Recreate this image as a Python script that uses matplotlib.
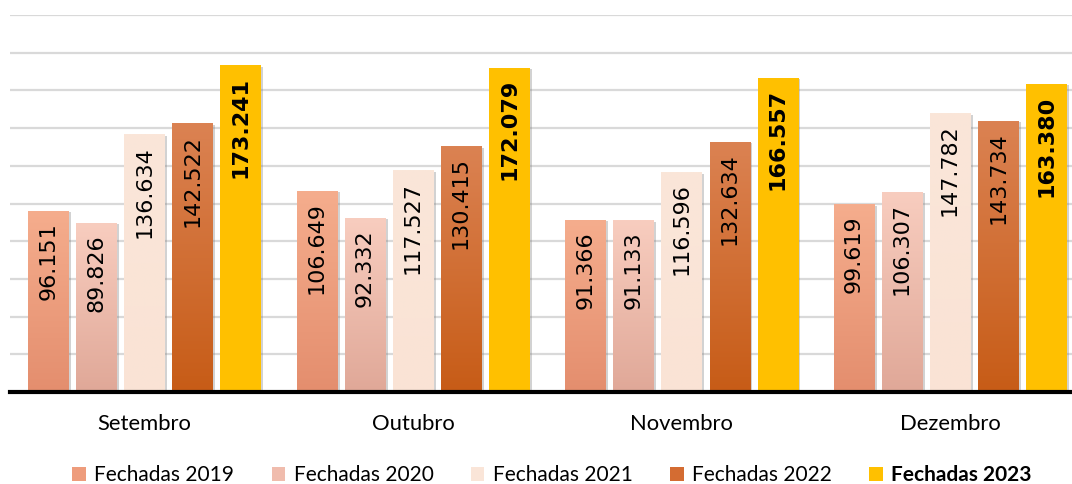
import matplotlib
matplotlib.use("Agg")
import matplotlib.pyplot as plt
import matplotlib.patheffects as pe
from matplotlib.colors import LinearSegmentedColormap
from matplotlib.patches import Patch
import numpy as np

months = ["Setembro", "Outubro", "Novembro", "Dezembro"]
series = ["Fechadas 2019", "Fechadas 2020", "Fechadas 2021", "Fechadas 2022", "Fechadas 2023"]
v2019 = [96.151, 106.649, 91.366, 99.619]
v2020 = [89.826, 92.332, 91.133, 106.307]
v2021 = [136.634, 117.527, 116.596, 147.782]
v2022 = [142.522, 130.415, 132.634, 143.734]
v2023 = [173.241, 172.079, 166.557, 163.380]
values = [v2019, v2020, v2021, v2022, v2023]

# top colour, bottom colour
grads = [("#F5AD8D", "#E48E6E"),
         ("#F8CDBF", "#E0A898"),
         ("#FAE6D9", "#FAE3D5"),
         ("#DB8252", "#C75C17"),
         ("#FFC000", "#FFC000")]
legend_cols = ["#EE9C7C", "#F0BCAD", "#FAE5D8", "#D46C32", "#FFC000"]

plt.rcParams['font.family'] = ['Lato', 'DejaVu Sans']

fig = plt.figure(figsize=(10.72, 4.84), dpi=100)
ax = fig.add_axes([10/1072, 92/484, 1062/1072, 377/484])

x = np.arange(len(months))
pitch = 0.179
width = 0.149

for i, (vals, (ctop, cbot)) in enumerate(zip(values, grads)):
    bars = ax.bar(x + (i - 2) * pitch, vals, width, color=cbot, zorder=3,
                  path_effects=[pe.SimplePatchShadow(offset=(2, -1), shadow_rgbFace="#808080", alpha=0.35),
                                pe.Normal()])
    cmap = LinearSegmentedColormap.from_list("g%d" % i, [cbot, ctop])
    for b, v in zip(bars, vals):
        x0 = b.get_x()
        im = ax.imshow(np.linspace(0, 1, 100).reshape(-1, 1), cmap=cmap, origin="lower",
                       extent=[x0, x0 + b.get_width(), 0, b.get_height()],
                       aspect="auto", zorder=3.5)
        im.set_clip_path(b)
        ax.text(b.get_x() + b.get_width() / 2, v - 6, f"{v:.3f}",
                rotation=90, ha="center", va="top", fontsize=16,
                family=["DejaVu Sans"],
                fontweight="bold" if i == 4 else "normal", zorder=5)

ax.set_xlim(-0.5, 3.454)
ax.set_ylim(0, 200)
ax.set_yticks(np.arange(20, 201, 20))
ax.yaxis.grid(True, color="#D9D9D9", linewidth=1.6, zorder=0)
ax.tick_params(axis="y", left=False, labelleft=False)
ax.set_xticks(x)
ax.set_xticklabels(months, fontsize=15.8)
ax.tick_params(axis="x", length=0, pad=16)
for s in ["top", "right", "left"]:
    ax.spines[s].set_visible(False)
ax.spines["bottom"].set_linewidth(3)
ax.spines["bottom"].set_zorder(6)

handles = [Patch(facecolor=c, edgecolor="none") for c in legend_cols]
leg = fig.legend(handles, series, loc="center", bbox_to_anchor=(0.515, 0.018), ncol=5,
                 frameon=False, fontsize=15, handlelength=0.65, handleheight=0.65,
                 handletextpad=0.4, columnspacing=1.8)
leg.get_texts()[-1].set_fontweight("bold")

fig.savefig("out.png", dpi=100)
